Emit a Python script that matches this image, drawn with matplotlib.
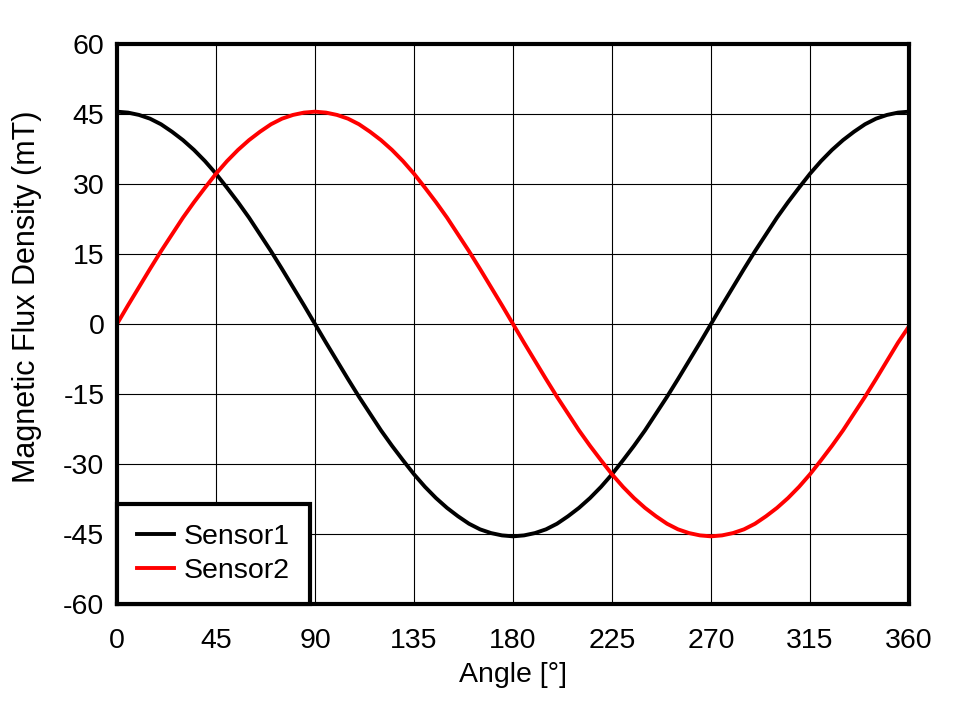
import matplotlib
matplotlib.use("Agg")
import matplotlib.pyplot as plt

plt.rcParams['font.family'] = ['Liberation Sans', 'DejaVu Sans']
plt.rcParams['axes.unicode_minus'] = False

# angle in degrees (5 degree steps), flux density in mT
angle = list(range(0, 361, 5))
sensor1 = [45.5, 45.3, 44.8, 44.0, 42.8, 41.2, 39.4, 37.3, 34.9, 32.2, 29.2, 26.1, 22.8, 19.2, 15.6, 11.8, 7.9, 4.0,
           0.0, -4.0, -7.9, -11.8, -15.6, -19.2, -22.8, -26.1, -29.2, -32.2, -34.9, -37.3, -39.4, -41.2, -42.8, -44.0, -44.8, -45.3,
           -45.5, -45.3, -44.8, -44.0, -42.8, -41.2, -39.4, -37.3, -34.9, -32.2, -29.2, -26.1, -22.8, -19.2, -15.6, -11.8, -7.9, -4.0,
           0.0, 4.0, 7.9, 11.8, 15.6, 19.2, 22.8, 26.1, 29.2, 32.2, 34.9, 37.3, 39.4, 41.2, 42.8, 44.0, 44.8, 45.3,
           45.5]
sensor2 = [0.0, 4.0, 7.9, 11.8, 15.6, 19.2, 22.8, 26.1, 29.2, 32.2, 34.9, 37.3, 39.4, 41.2, 42.8, 44.0, 44.8, 45.3,
           45.5, 45.3, 44.8, 44.0, 42.8, 41.2, 39.4, 37.3, 34.9, 32.2, 29.2, 26.1, 22.8, 19.2, 15.6, 11.8, 7.9, 4.0,
           0.0, -4.0, -7.9, -11.8, -15.6, -19.2, -22.8, -26.1, -29.2, -32.2, -34.9, -37.3, -39.4, -41.2, -42.8, -44.0, -44.8, -45.3,
           -45.5, -45.3, -44.8, -44.0, -42.8, -41.2, -39.4, -37.3, -34.9, -32.2, -29.2, -26.1, -22.8, -19.2, -15.6, -11.8, -7.9, -4.0,
           -0.5]

xticks = [0, 45, 90, 135, 180, 225, 270, 315, 360]
yticks = [-60, -45, -30, -15, 0, 15, 30, 45, 60]

fs = 20.5

fig = plt.figure(figsize=(9.58, 7.01), dpi=100)
ax = fig.add_axes([117 / 958, 1 - 604 / 701, (909 - 117) / 958, (604 - 44) / 701])

ax.plot(angle, sensor1, color='black', linewidth=2.8, label='Sensor1')
ax.plot(angle, sensor2, color='#ff0000', linewidth=2.8, label='Sensor2')

ax.set_xlim(0, 360)
ax.set_ylim(-60, 60)
ax.set_xticks(xticks)
ax.set_yticks(yticks)
ax.tick_params(length=0, labelsize=fs)
ax.tick_params(axis='x', pad=17)
ax.tick_params(axis='y', pad=9)
ax.grid(True, color='black', linewidth=0.8)
ax.set_axisbelow(True)
for s in ax.spines.values():
    s.set_linewidth(3)

ax.set_xlabel('Angle [°]', fontsize=fs, labelpad=6)
ax.set_ylabel('Magnetic Flux Density (mT)', fontsize=22)
ax.yaxis.set_label_coords(-0.095, 0.549)

leg = ax.legend(loc='lower left', fontsize=fs, borderaxespad=0, fancybox=False,
                framealpha=1, edgecolor='black', handlelength=1.3, handletextpad=0.35,
                borderpad=0.7, labelspacing=0.3)
leg.get_frame().set_linewidth(3)

fig.savefig('out.png', dpi=100)
plt.close(fig)
